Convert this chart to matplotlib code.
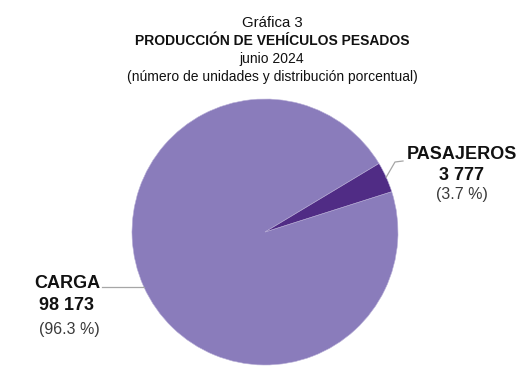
import numpy as np
import matplotlib
matplotlib.use("Agg")
import matplotlib.pyplot as plt

plt.rcParams['font.family'] = ['Liberation Sans', 'DejaVu Sans']

categories = ["CARGA", "PASAJEROS"]
values = [98173, 3777]
value_labels = ["98 173", "3 777"]
pct_labels = ["(96.3 %)", "(3.7 %)"]
colors = ["#8A7CBB", "#502C85"]

W, H = 526, 389
fig = plt.figure(figsize=(W / 100, H / 100), dpi=100)
fig.patch.set_facecolor("white")

def fx(x):
    return x / W

def fy(y):
    return 1 - y / H

# pie axes: centre (265, 232) px, radius 133 px
cx, cy, r = 265, 232, 133
ax = fig.add_axes([fx(cx - r), fy(cy + r), 2 * r / W, 2 * r / H])
wedges, _ = ax.pie(values, colors=colors, startangle=31, counterclock=True,
                   radius=1.0, wedgeprops=dict(linewidth=0.4, edgecolor="#B9B0D8"))
ax.set_xlim(-1, 1)
ax.set_ylim(-1, 1)
ax.set_aspect("equal")
ax.axis("off")

def px2d(x, y):
    return (x - cx) / r, (cy - y) / r

line_kw = dict(color="#A6A6A6", lw=0.9, clip_on=False)

# PASAJEROS leader
w = wedges[1]
mid = np.deg2rad((w.theta1 + w.theta2) / 2)
sx, sy = np.cos(mid), np.sin(mid)
p1 = px2d(395, 162)
p2 = px2d(403, 161)
ax.plot([sx, p1[0], p2[0]], [sy, p1[1], p2[1]], **line_kw)

# CARGA leader
w = wedges[0]
mid = np.deg2rad((w.theta1 + w.theta2) / 2)
sx, sy = np.cos(mid), np.sin(mid)
q = px2d(102, 0)
ax.plot([q[0], sx], [sy, sy], **line_kw)

# labels
fig.text(fx(461.7), fy(159.3), categories[1], ha="center", va="baseline",
         fontsize=13, fontweight="bold", color="#111111")
fig.text(fx(461.7), fy(180), value_labels[1], ha="center", va="baseline",
         fontsize=13, fontweight="bold", color="#111111")
fig.text(fx(461.7), fy(199), pct_labels[1], ha="center", va="baseline",
         fontsize=11.5, color="#3A3A3A")

fig.text(fx(67.5), fy(288.3), categories[0], ha="center", va="baseline",
         fontsize=13, fontweight="bold", color="#111111")
fig.text(fx(66.7), fy(310), value_labels[0], ha="center", va="baseline",
         fontsize=13, fontweight="bold", color="#111111")
fig.text(fx(69), fy(334), pct_labels[0], ha="center", va="baseline",
         fontsize=11.5, color="#3A3A3A")

# titles
tx = fx(272)
fig.text(tx, fy(26.7), "Gráfica 3", ha="center", va="baseline", fontsize=10.8, color="#111111")
fig.text(tx, fy(45), "PRODUCCIÓN DE VEHÍCULOS PESADOS", ha="center", va="baseline",
         fontsize=10, fontweight="bold", color="#111111")
fig.text(tx, fy(63), "junio 2024", ha="center", va="baseline", fontsize=10, color="#111111")
fig.text(tx, fy(81.5), "(número de unidades y distribución porcentual)", ha="center",
         va="baseline", fontsize=10, color="#111111")

fig.savefig("out.png", dpi=100, facecolor="white")
